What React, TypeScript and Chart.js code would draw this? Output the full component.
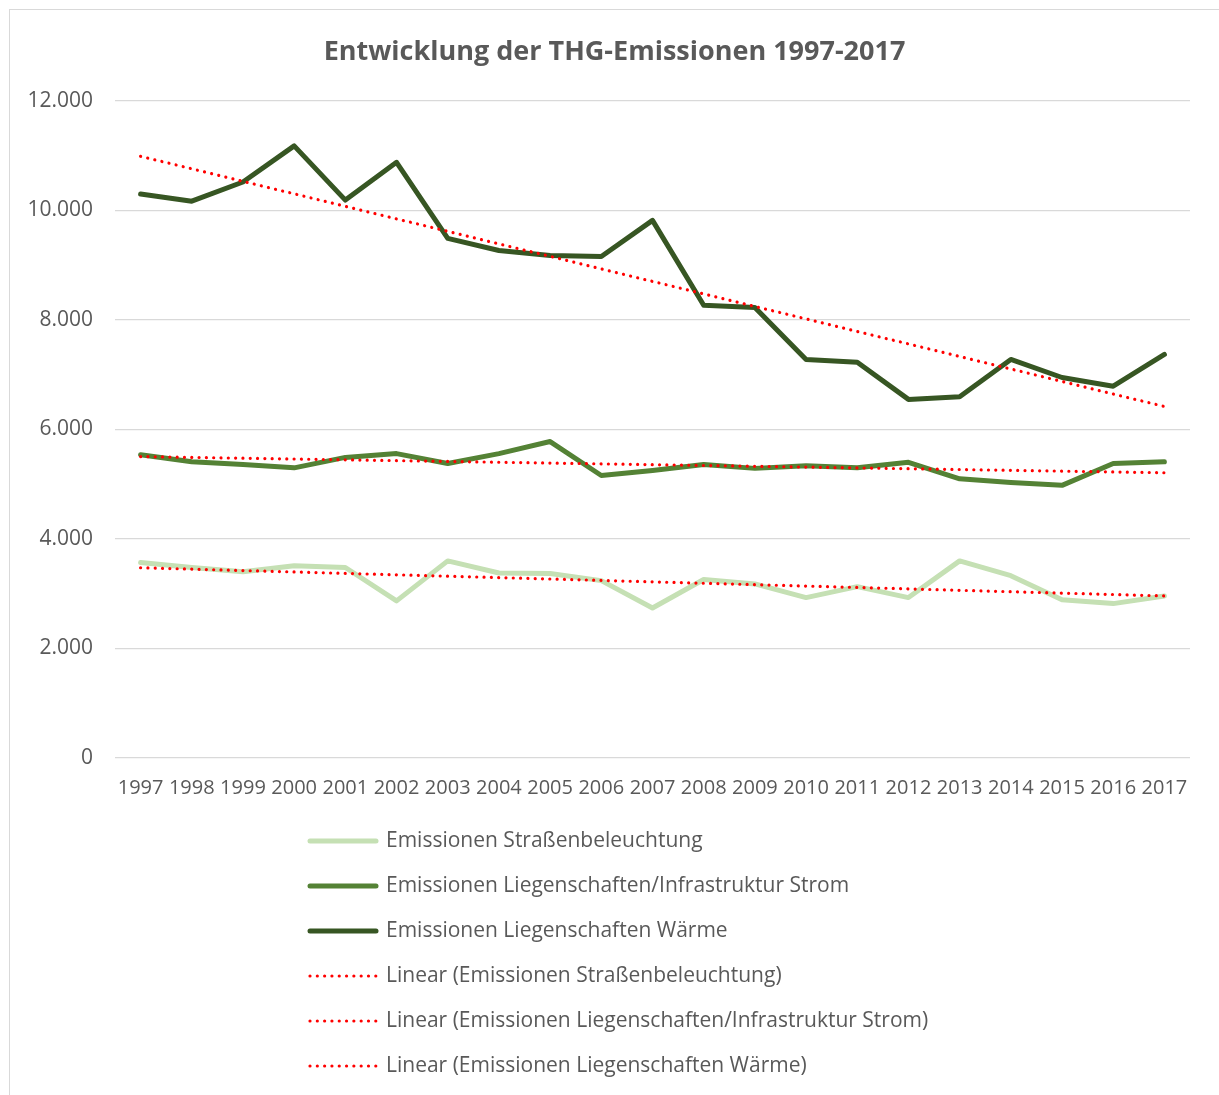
import React, { useEffect, useRef } from "react";
import { Chart, registerables } from "chart.js";

Chart.register(...registerables);

const years = ["1997","1998","1999","2000","2001","2002","2003","2004","2005","2006","2007","2008","2009","2010","2011","2012","2013","2014","2015","2016","2017"];

const strassenbeleuchtung = [3570,3480,3400,3510,3480,2870,3600,3380,3370,3240,2740,3260,3180,2930,3130,2930,3600,3330,2890,2820,2960];
const liegenschaftenStrom = [5540,5410,5360,5300,5490,5560,5380,5560,5780,5160,5250,5360,5290,5340,5300,5400,5100,5030,4980,5380,5410];
const liegenschaftenWaerme = [10300,10170,10520,11180,10190,10880,9490,9270,9180,9160,9820,8270,8230,7280,7230,6550,6600,7280,6950,6790,7370];

// trend line end points (1997, 2017)
const trendStrassen = [3475, 2960];
const trendStrom = [5505, 5210];
const trendWaerme = [10990, 6420];

const yTicks = [0, 2000, 4000, 6000, 8000, 10000, 12000];

const seriesLabels = [
  "Emissionen Straßenbeleuchtung",
  "Emissionen Liegenschaften/Infrastruktur Strom",
  "Emissionen Liegenschaften Wärme",
  "Linear (Emissionen Straßenbeleuchtung)",
  "Linear (Emissionen Liegenschaften/Infrastruktur Strom)",
  "Linear (Emissionen Liegenschaften Wärme)",
];

const TEXT = "#595959";
const FONT = "'Open Sans', sans-serif";
const C_LIGHT = "#C5E0B4";
const C_MID = "#548235";
const C_DARK = "#375623";
const C_RED = "#FF0000";

function trendData(ends: number[]) {
  return years.map((_, i) => (i === 0 ? ends[0] : i === years.length - 1 ? ends[1] : null));
}

function fmt(v: number) {
  return String(Math.round(v)).replace(/\B(?=(\d{3})+(?!\d))/g, ".");
}

const legendPlugin = {
  id: "verticalLegend",
  afterDraw(chart: any) {
    const ctx = chart.ctx as CanvasRenderingContext2D;
    const ds = chart.data.datasets;
    ctx.save();
    ctx.font = `21px ${FONT}`;
    let maxW = 0;
    for (const d of ds) maxW = Math.max(maxW, ctx.measureText(d.label).width);
    const sampleW = 70;
    const gap = 8;
    const blockW = sampleW + gap + maxW;
    const left = Math.round((chart.width - blockW) / 2) + 4;
    const startY = chart.scales.x.bottom + 23;
    const rowH = 45;
    ds.forEach((d: any, i: number) => {
      const y = startY + i * rowH;
      ctx.beginPath();
      ctx.strokeStyle = d.borderColor;
      ctx.lineWidth = d.borderWidth;
      ctx.lineCap = "round";
      if (d.borderDash && d.borderDash.length) {
        ctx.setLineDash(d.borderDash);
      } else {
        ctx.setLineDash([]);
      }
      ctx.moveTo(left + 2, y);
      ctx.lineTo(left + sampleW - 2, y);
      ctx.stroke();
      ctx.setLineDash([]);
      ctx.fillStyle = TEXT;
      ctx.textBaseline = "middle";
      ctx.textAlign = "left";
      ctx.fillText(d.label, left + sampleW + gap, y);
    });
    ctx.restore();
  },
};

export default function App() {
  const ref = useRef<HTMLCanvasElement | null>(null);
  useEffect(() => {
    if (!ref.current) return;
    const dotted = { borderColor: C_RED, borderWidth: 3.2, borderDash: [0.01, 7.3], borderCapStyle: "round" as const, pointRadius: 0, spanGaps: true, order: 0, fill: false, tension: 0 };
    const solid = { borderWidth: 5, pointRadius: 0, borderCapStyle: "round" as const, borderJoinStyle: "round" as const, order: 1, fill: false, tension: 0 };
    const chart = new Chart(ref.current, {
      type: "line",
      data: {
        labels: years,
        datasets: [
          { ...solid, label: seriesLabels[0], data: strassenbeleuchtung, borderColor: C_LIGHT, backgroundColor: C_LIGHT },
          { ...solid, label: seriesLabels[1], data: liegenschaftenStrom, borderColor: C_MID, backgroundColor: C_MID },
          { ...solid, label: seriesLabels[2], data: liegenschaftenWaerme, borderColor: C_DARK, backgroundColor: C_DARK },
          { ...dotted, label: seriesLabels[3], data: trendData(trendStrassen), backgroundColor: C_RED },
          { ...dotted, label: seriesLabels[4], data: trendData(trendStrom), backgroundColor: C_RED },
          { ...dotted, label: seriesLabels[5], data: trendData(trendWaerme), backgroundColor: C_RED },
        ] as any,
      },
      options: {
        animation: false,
        responsive: false,
        maintainAspectRatio: false,
        layout: { padding: { left: 0, right: 0, top: 0, bottom: 277 } },
        plugins: {
          legend: { display: false },
          tooltip: { enabled: false },
          title: {
            display: true,
            text: "Entwicklung der THG-Emissionen 1997-2017",
            color: TEXT,
            font: { family: FONT, size: 27, weight: "bold", lineHeight: 1.2 },
            padding: { top: 26.3, bottom: 32.3 },
          },
        },
        scales: {
          x: {
            offset: true,
            grid: { display: false, drawTicks: false, offset: true },
            border: { display: false },
            ticks: { color: TEXT, font: { family: FONT, size: 20, lineHeight: 1.2 }, padding: 18, maxRotation: 0, autoSkip: false },
          },
          y: {
            min: yTicks[0],
            max: yTicks[yTicks.length - 1],
            afterBuildTicks(scale: any) {
              scale.ticks = yTicks.map((v) => ({ value: v }));
            },
            afterFit(scale: any) {
              scale.width = 105;
            },
            grid: { color: "#D9D9D9", lineWidth: 1.3, drawTicks: false },
            border: { display: false },
            ticks: {
              color: TEXT,
              font: { family: FONT, size: 21, lineHeight: 1.2 },
              padding: 22,
              callback: (v: any) => fmt(Number(v)),
            },
          },
          spacer: {
            type: "linear",
            position: "right",
            display: true,
            grid: { display: false, drawTicks: false },
            border: { display: false },
            ticks: { display: false },
            afterFit(scale: any) {
              scale.width = 29;
            },
          },
        } as any,
      },
      plugins: [legendPlugin],
    });
    return () => chart.destroy();
  }, []);

  return (
    <div
      style={{
        position: "absolute",
        left: 9,
        top: 9,
        width: 1209,
        height: 1085,
        borderTop: "1px solid #D9D9D9",
        borderLeft: "1px solid #D9D9D9",
        background: "#fff",
      }}
    >
      <canvas ref={ref} width={1209} height={1085} style={{ display: "block", width: 1209, height: 1085 }} />
    </div>
  );
}
